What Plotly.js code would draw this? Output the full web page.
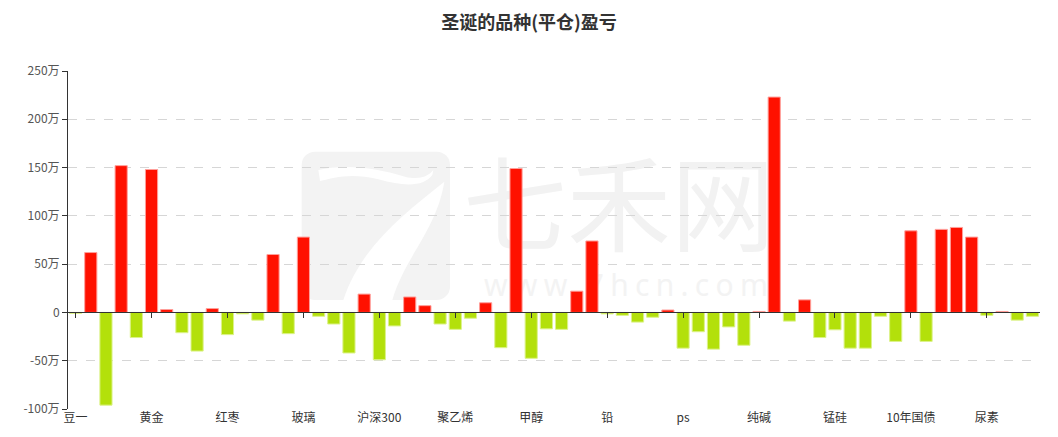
<!DOCTYPE html>
<html>
<head>
<meta charset="utf-8">
<script src="https://cdn.plot.ly/plotly-3.0.1.min.js"></script>
<style>
html,body{margin:0;padding:0;background:#fff;}
#wrap{position:relative;width:1058px;height:437px;}
#wm{position:absolute;left:0;top:0;width:1058px;height:437px;z-index:0;}
#chart{position:absolute;left:0;top:0;width:1058px;height:437px;z-index:1;}
</style>
</head>
<body>
<div id="wrap">
<svg id="wm" width="1058" height="437" xmlns="http://www.w3.org/2000/svg">
  <g transform="translate(295,145) scale(0.33333)">
    <rect x="20" y="20" width="445" height="445" rx="40" ry="40" fill="#f3f3f3"/>
    <path d="M70,75 C150,55 250,70 330,95 C380,108 405,88 415,75 L412,90 C385,125 330,125 250,103 C170,82 115,98 75,108 Z" fill="#ffffff"/>
    <path d="M448,110 C425,255 330,335 292,465 L145,465 C200,300 330,205 448,110 Z" fill="#ffffff"/>
  </g>
  <text x="619" y="244" text-anchor="middle" font-family="'Noto Sans CJK SC', sans-serif" font-size="104" fill="#f2f2f2">七禾网</text>
  <text x="484" y="296" textLength="284" lengthAdjust="spacing" font-family="'Noto Sans', sans-serif" font-size="30" fill="#f3f3f3">www.7hcn.com</text>
</svg>
<div id="chart"></div>
</div>
<script>
// 64 varieties, values in 万 (10k)
const values = [
  -1, 62, -96, 152, -26, 148, 3, -21, -40, 4,
  -23, -1.5, -8, 60, -22, 78, -4, -12, -42, 19,
  -49, -14, 16, 7, -12, -17.5, -6, 10, -36.5, 149,
  -47.5, -17, -17.5, 22, 74, -1.5, -3, -10, -5, 2.5,
  -37, -20, -38, -15, -34, 1, 223, -9, 13, -26,
  -18, -37, -37, -4, -30, 84.5, -30, 86, 88, 78,
  -3, 1, -8, -4
];
const tickLabels = ["豆一","黄金","红枣","玻璃","沪深300","聚乙烯","甲醇","铅","ps","纯碱","锰硅","10年国债","尿素"];
const tickEvery = 5;
const yTickVals = [-100, -50, 0, 50, 100, 150, 200, 250];

const xIdx = values.map((v, i) => i);
const tickVals = tickLabels.map((t, i) => i * tickEvery);
const yTickText = yTickVals.map(v => v === 0 ? "0" : v + "万");

const colors = values.map(v => v >= 0 ? "#ff1100" : "#b3e00b");
const lineColors = values.map(v => v >= 0 ? "#ff9f9a" : "#dcf28a");

const yMin = -100, yMax = 250;
const xRange = [-0.5, values.length - 0.5];

const trace = {
  type: "bar",
  x: xIdx,
  y: values,
  marker: {color: colors, line: {color: lineColors, width: 1}},
  width: 0.8,
  hoverinfo: "y",
  xaxis: "x", yaxis: "y"
};
// invisible trace to activate the zero-line axis with ticks
const zeroAxisTrace = {
  type: "scatter", mode: "markers",
  x: [xRange[0]], y: [0],
  marker: {opacity: 0}, hoverinfo: "skip",
  xaxis: "x2", yaxis: "y"
};

const layout = {
  width: 1058, height: 437,
  margin: {l: 68, r: 18, t: 71, b: 28},
  paper_bgcolor: "rgba(0,0,0,0)", plot_bgcolor: "rgba(0,0,0,0)",
  showlegend: false,
  bargap: 0.2,
  font: {family: "'Noto Sans CJK SC', 'Noto Sans', sans-serif", size: 12, color: "#333"},
  title: {
    text: "<b>圣诞的品种(平仓)盈亏</b>",
    x: 0.5, xanchor: "center", y: 0.948, yanchor: "middle",
    font: {size: 18, color: "#333", family: "'Noto Sans CJK SC', sans-serif"}
  },
  xaxis: {
    range: xRange, showgrid: false, zeroline: false, showline: false,
    tickvals: tickVals, ticktext: tickLabels, ticks: "",
    tickfont: {size: 12, color: "#333"}, fixedrange: true
  },
  xaxis2: {
    overlaying: "x", anchor: "free",
    position: (0 - yMin) / (yMax - yMin),
    range: xRange, showgrid: false, zeroline: false,
    showline: true, linecolor: "#333", linewidth: 1,
    tickvals: tickVals, ticks: "outside", ticklen: 5, tickcolor: "#333",
    showticklabels: false, fixedrange: true
  },
  yaxis: {
    range: [yMin, yMax], tickvals: yTickVals, ticktext: yTickText,
    showgrid: true, gridcolor: "#d6d6d6", griddash: "dash", gridwidth: 1,
    zeroline: false, showline: true, linecolor: "#333", linewidth: 1,
    ticks: "outside", ticklen: 5, tickcolor: "#333",
    tickfont: {size: 12, color: "#555"}, fixedrange: true
  }
};

Plotly.newPlot("chart", [trace, zeroAxisTrace], layout, {displayModeBar: false, staticPlot: true});
</script>
</body>
</html>
